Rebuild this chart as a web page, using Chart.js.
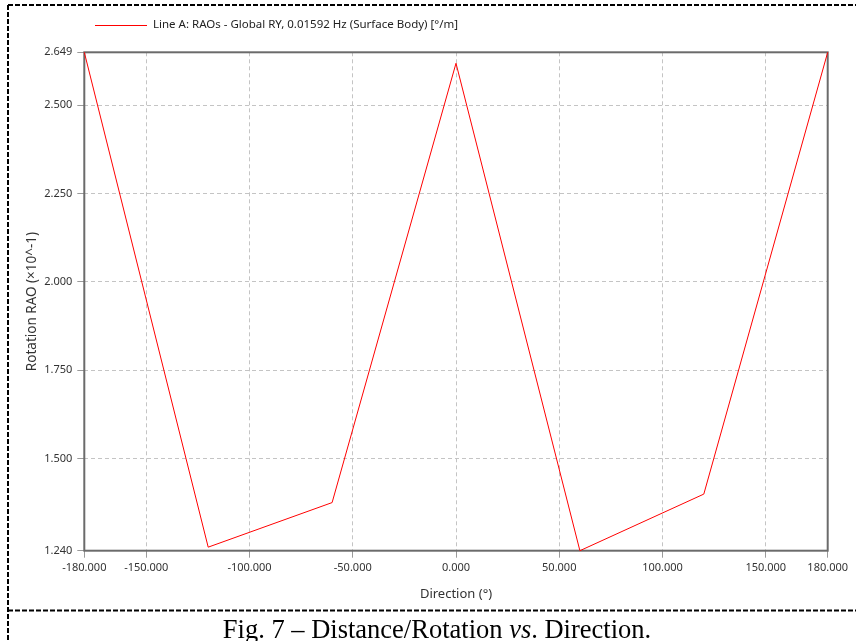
<!DOCTYPE html>
<html><head><meta charset="utf-8">
<script src="https://cdn.jsdelivr.net/npm/chart.js@4/dist/chart.umd.min.js"></script>
<style>
html,body{margin:0;padding:0;background:#fff;width:856px;height:641px;overflow:hidden}
#c{position:absolute;left:0;top:0}
#cap{position:absolute;left:0;top:616px;width:874px;text-align:center;font-family:"Liberation Serif","Times New Roman",serif;font-size:26.5px;line-height:26.5px;color:#000;white-space:nowrap}
</style></head><body>
<canvas id="c" width="856" height="641"></canvas>
<div id="cap">Fig. 7 – Distance/Rotation <i>vs</i>. Direction.</div>
<script>
const directions = [-180, -120, -60, 0, 60, 120, 180];
const rotationRAO = [2.649, 1.250, 1.376, 2.618, 1.240, 1.400, 2.649];
const xTicks = [-180, -150, -100, -50, 0, 50, 100, 150, 180];
const yTicks = [1.240, 1.500, 1.750, 2.000, 2.250, 2.500, 2.649];
const seriesLabel = 'Line A: RAOs - Global RY, 0.01592 Hz (Surface Body) [°/m]';
const xTitle = 'Direction (°)';
const yTitle = 'Rotation RAO (×10^-1)';

const FONT = '"Noto Sans", "Open Sans", sans-serif';
const LINE_COLOR = '#ff0000';

const framePlugin = {
  id: 'frame',
  beforeDatasetsDraw(chart) {
    const {ctx, chartArea: a} = chart;
    ctx.save();
    ctx.strokeStyle = '#6b6b6b';
    ctx.lineWidth = 2;
    ctx.strokeRect(a.left, a.top, a.right - a.left, a.bottom - a.top);
    ctx.restore();
  },
  afterDraw(chart) {
    const ctx = chart.ctx;
    ctx.save();
    ctx.strokeStyle = '#000';
    ctx.lineWidth = 2;
    ctx.setLineDash([5, 2]);
    ctx.beginPath();
    ctx.moveTo(8, 5); ctx.lineTo(856, 5);
    ctx.moveTo(8, 5); ctx.lineTo(8, 641);
    ctx.moveTo(8, 610.5); ctx.lineTo(856, 610.5);
    ctx.stroke();
    ctx.restore();
    ctx.save();
    ctx.setLineDash([]);
    ctx.strokeStyle = LINE_COLOR;
    ctx.lineWidth = 1;
    ctx.beginPath();
    ctx.moveTo(95, 25.5); ctx.lineTo(147, 25.5);
    ctx.stroke();
    ctx.fillStyle = '#222';
    ctx.font = '11.5px ' + FONT;
    ctx.textBaseline = 'middle';
    ctx.textAlign = 'left';
    ctx.fillText(chart.data.datasets[0].label, 153, 25);
    ctx.restore();
  }
};

new Chart(document.getElementById('c'), {
  type: 'line',
  data: {
    datasets: [{
      label: seriesLabel,
      data: directions.map((d, i) => ({x: d, y: rotationRAO[i]})),
      borderColor: LINE_COLOR,
      borderWidth: 1,
      pointRadius: 0,
      tension: 0,
      fill: false,
      clip: 4
    }]
  },
  options: {
    responsive: false,
    animation: false,
    devicePixelRatio: 1,
    layout: {padding: {left: 0, top: 52.3, right: 28.3, bottom: 0}},
    plugins: {legend: {display: false}, title: {display: false}, tooltip: {enabled: false}},
    scales: {
      x: {
        type: 'linear',
        min: -180, max: 180,
        afterBuildTicks(s) { s.ticks = xTicks.map(v => ({value: v})); },
        afterFit(s) { s.height = 90.3; },
        ticks: {
          autoSkip: false, maxRotation: 0, padding: 4,
          color: '#333', font: {family: FONT, size: 11},
          callback: v => Number(v).toFixed(3)
        },
        grid: {color: '#c4c4c4', lineWidth: 1, tickLength: 7, tickColor: '#9a9a9a', tickBorderDash: []},
        border: {display: false, dash: [4, 3]},
        title: {display: true, text: xTitle, color: '#333', font: {family: FONT, size: 13}, padding: {top: 0, bottom: 38.5}}
      },
      y: {
        type: 'linear',
        min: 1.240, max: 2.649,
        afterBuildTicks(s) { s.ticks = yTicks.map(v => ({value: v})); },
        afterFit(s) { s.width = 84.3; },
        ticks: {
          autoSkip: false, padding: 5,
          color: '#333', font: {family: FONT, size: 11},
          callback: v => Number(v).toFixed(3)
        },
        grid: {color: '#c4c4c4', lineWidth: 1, tickLength: 7, tickColor: '#9a9a9a', tickBorderDash: []},
        border: {display: false, dash: [4, 3]},
        title: {display: true, text: yTitle, color: '#333', font: {family: FONT, size: 13.5}, padding: {top: 24.5, bottom: 0}}
      }
    }
  },
  plugins: [framePlugin]
});
</script>
</body></html>
